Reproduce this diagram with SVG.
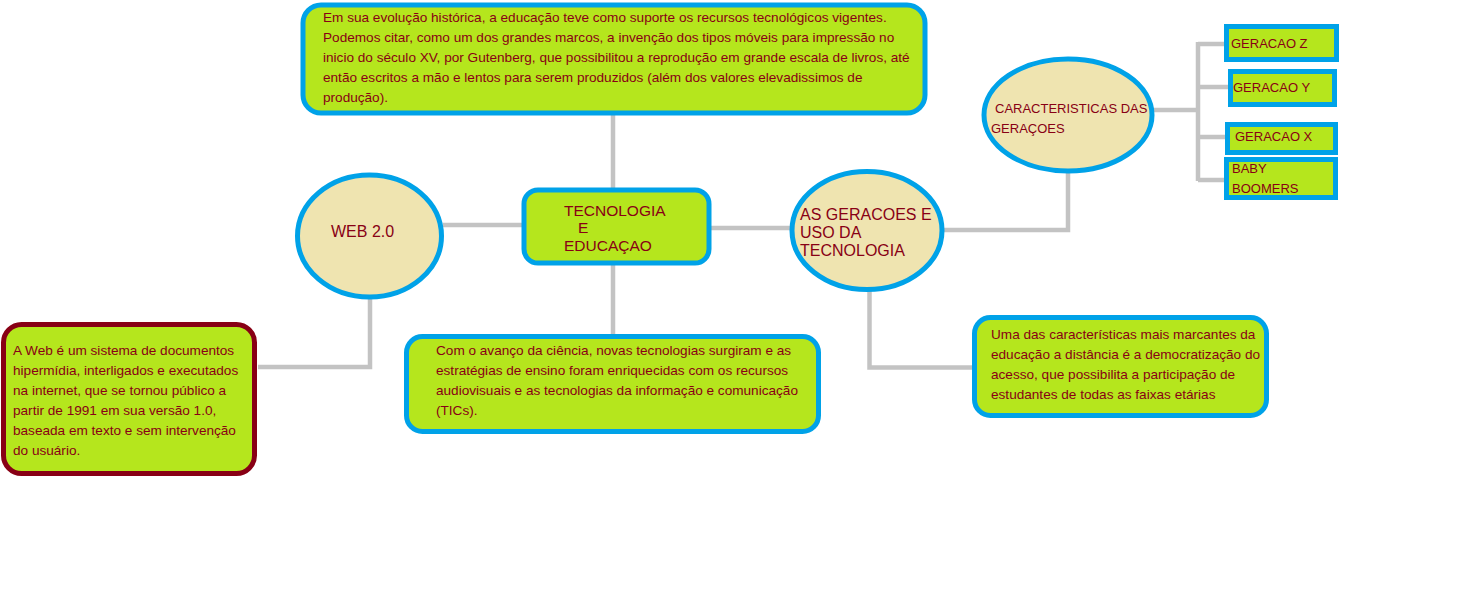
<svg xmlns="http://www.w3.org/2000/svg" width="1461" height="609" viewBox="0 0 1461 609">
<style>
.conn{fill:none;stroke:#c3c3c3;stroke-width:4.5}
.box{fill:#b5e61d;stroke:#00a2e8;stroke-width:5}
.ell{fill:#efe4b0;stroke:#00a2e8;stroke-width:5}
.red{fill:#b5e61d;stroke:#880015;stroke-width:5}
text{font-family:"Liberation Sans",Arial,sans-serif;fill:#880015}
.s{font-size:13.6px}
.g{font-size:13px}
.m{font-size:15.5px}
.l{font-size:16px}
</style>
<rect width="1461" height="609" fill="#fff"/>
<g id="connectors">
<path class="conn" d="M613 114V190"/>
<path class="conn" d="M613 264V336"/>
<path class="conn" d="M443 225H523"/>
<path class="conn" d="M710 228H792"/>
<path class="conn" d="M370 298V367H258"/>
<path class="conn" d="M869.5 291V367.5H975"/>
<path class="conn" d="M944 230H1068V172"/>
<path class="conn" d="M1153 110H1198"/>
<path class="conn" d="M1198 42V181"/>
<path class="conn" d="M1198 44H1226M1198 87H1230M1198 137H1227M1198 180H1226"/>
</g>
<g id="top">
<rect class="box" x="303" y="5" width="622" height="108" rx="18"/>
<text class="s" x="323" y="22">Em sua evolução histórica, a educação teve como suporte os recursos tecnológicos vigentes.</text>
<text class="s" x="323" y="42">Podemos citar, como um dos grandes marcos, a invenção dos tipos móveis para impressão no</text>
<text class="s" x="323" y="62">inicio do século XV, por Gutenberg, que possibilitou a reprodução em grande escala de livros, até</text>
<text class="s" x="323" y="82">então escritos a mão e lentos para serem produzidos (além dos valores elevadissimos de</text>
<text class="s" x="323" y="102">produção).</text>
</g>
<g id="center">
<rect class="box" x="524" y="190" width="185" height="73" rx="14"/>
<text class="m" x="564" y="216">TECNOLOGIA</text>
<text class="m" x="578" y="233">E</text>
<text class="m" x="564" y="251">EDUCAÇAO</text>
</g>
<g id="web">
<ellipse class="ell" cx="369.5" cy="236" rx="72" ry="61"/>
<text class="l" x="331" y="237">WEB 2.0</text>
</g>
<g id="geracoes">
<ellipse class="ell" cx="867" cy="230.5" rx="75" ry="59"/>
<text class="l" x="800" y="220">AS GERACOES E</text>
<text class="l" x="800" y="238">USO DA</text>
<text class="l" x="800" y="256">TECNOLOGIA</text>
</g>
<g id="web-desc">
<rect class="red" x="3.5" y="324.5" width="251" height="149" rx="18"/>
<text class="s" x="13" y="355">A Web é um sistema de documentos</text>
<text class="s" x="13" y="375">hipermídia, interligados e executados</text>
<text class="s" x="13" y="395">na internet, que se tornou público a</text>
<text class="s" x="13" y="415">partir de 1991 em sua versão 1.0,</text>
<text class="s" x="13" y="435">baseada em texto e sem intervenção</text>
<text class="s" x="13" y="455">do usuário.</text>
</g>
<g id="ciencia">
<rect class="box" x="406.5" y="336.5" width="412" height="95" rx="16"/>
<text class="s" x="436" y="355">Com o avanço da ciência, novas tecnologias surgiram e as</text>
<text class="s" x="436" y="375">estratégias de ensino foram enriquecidas com os recursos</text>
<text class="s" x="436" y="395">audiovisuais e as tecnologias da informação e comunicação</text>
<text class="s" x="436" y="415">(TICs).</text>
</g>
<g id="ead">
<rect class="box" x="974.5" y="317.5" width="292" height="98" rx="16"/>
<text class="s" x="991" y="339">Uma das características mais marcantes da</text>
<text class="s" x="991" y="359">educação a distância é a democratização do</text>
<text class="s" x="991" y="379">acesso, que possibilita a participação de</text>
<text class="s" x="991" y="399">estudantes de todas as faixas etárias</text>
</g>
<g id="caracteristicas">
<ellipse class="ell" cx="1068" cy="115" rx="84" ry="56"/>
<text class="g" x="995" y="113">CARACTERISTICAS DAS</text>
<text class="g" x="991" y="133">GERAÇOES</text>
</g>
<g id="gz">
<rect class="box" x="1226.5" y="26.5" width="110" height="33"/>
<text class="g" x="1231" y="48">GERACAO Z</text>
</g>
<g id="gy">
<rect class="box" x="1230.5" y="71.5" width="104" height="33"/>
<text class="g" x="1233" y="92">GERACAO Y</text>
</g>
<g id="gx">
<rect class="box" x="1227.5" y="124.5" width="108" height="28"/>
<text class="g" x="1235" y="141">GERACAO X</text>
</g>
<g id="bb">
<rect class="box" x="1226.5" y="159.5" width="109" height="38"/>
<text class="g" x="1232" y="173">BABY</text>
<text class="g" x="1232" y="193">BOOMERS</text>
</g>
</svg>
